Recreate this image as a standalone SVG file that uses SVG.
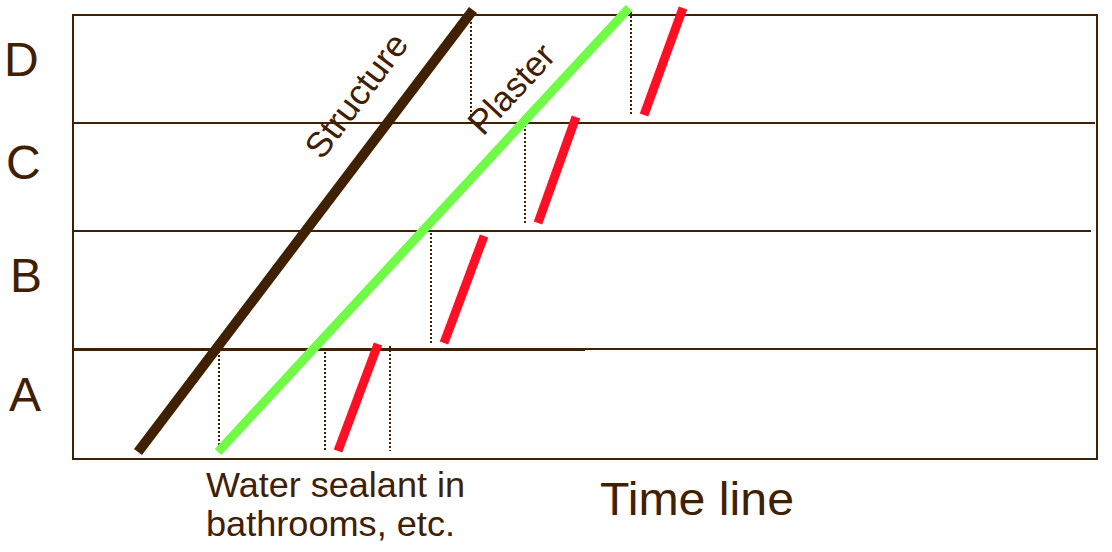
<svg xmlns="http://www.w3.org/2000/svg" width="1112" height="552" viewBox="0 0 1112 552">
<style>
.frame{fill:none;stroke:#3f2000;stroke-width:2}
.hl{stroke:#3f2000;stroke-width:2}
.dot{stroke:#3f2000;stroke-width:2;stroke-dasharray:2 2}
.red{stroke:#ff0f23;stroke-width:9;stroke-linecap:butt}
.t{fill:#3f2000;font-family:"Liberation Sans",Arial,sans-serif}
</style>
<rect width="1112" height="552" fill="#ffffff"/>
<g id="grid">
<rect class="frame" x="73" y="15" width="1024" height="444"/>
<line class="hl" x1="73" y1="123" x2="1095" y2="123"/>
<line class="hl" x1="73" y1="231" x2="1091" y2="231"/>
<line class="hl" x1="73" y1="349" x2="1097" y2="349"/>
<line class="hl" x1="73" y1="349.5" x2="585" y2="349.5" style="stroke-width:3"/>
</g>
<g id="dotted">
<line class="dot" x1="471" y1="18" x2="471" y2="118"/>
<line class="dot" x1="631" y1="12" x2="631" y2="115"/>
<line class="dot" x1="525" y1="117" x2="525" y2="223"/>
<line class="dot" x1="431" y1="233" x2="431" y2="343"/>
<line class="dot" x1="219" y1="351" x2="219" y2="451"/>
<line class="dot" x1="325" y1="348" x2="325" y2="451"/>
<line class="dot" x1="390" y1="346" x2="390" y2="451"/>
</g>
<g id="structure">
<line x1="138" y1="452" x2="473" y2="10" stroke="#3f2000" stroke-width="10"/>
<text class="t" x="322" y="161" font-size="35" textLength="146" lengthAdjust="spacingAndGlyphs" transform="rotate(-53 322 161)">Structure</text>
</g>
<g id="plaster">
<line x1="218" y1="452" x2="629" y2="8" stroke="#6ffb46" stroke-width="9"/>
<text class="t" x="483" y="137" font-size="35" transform="rotate(-47 483 137)">Plaster</text>
</g>
<g id="sealant">
<line class="red" x1="338" y1="451" x2="378" y2="344"/>
<line class="red" x1="444" y1="343" x2="484" y2="236"/>
<line class="red" x1="538" y1="223" x2="576" y2="117"/>
<line class="red" x1="644" y1="115" x2="683" y2="8"/>
</g>
<g id="labels">
<text class="t" x="4" y="76" font-size="48">D</text>
<text class="t" x="6" y="179" font-size="48">C</text>
<text class="t" x="10" y="292" font-size="48">B</text>
<text class="t" x="9" y="411" font-size="48">A</text>
<text class="t" x="206" y="497" font-size="35" textLength="259" lengthAdjust="spacingAndGlyphs">Water sealant in</text>
<text class="t" x="206" y="536" font-size="35" textLength="249" lengthAdjust="spacingAndGlyphs">bathrooms, etc.</text>
<text class="t" x="600" y="515" font-size="46" textLength="194" lengthAdjust="spacingAndGlyphs">Time line</text>
</g>
</svg>
